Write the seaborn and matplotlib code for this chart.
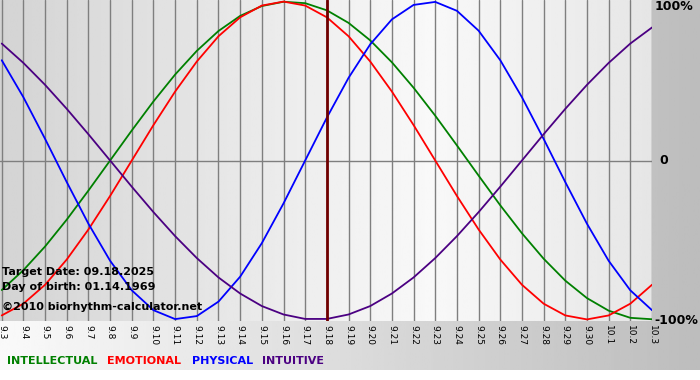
import matplotlib
matplotlib.use('Agg')
import matplotlib.pyplot as plt
import numpy as np
import pandas as pd
import seaborn as sns

# Days shown on the chart (Sep 3 - Oct 3, 2025)
days = ['9.3', '9.4', '9.5', '9.6', '9.7', '9.8', '9.9', '9.10', '9.11', '9.12',
        '9.13', '9.14', '9.15', '9.16', '9.17', '9.18', '9.19', '9.20', '9.21', '9.22',
        '9.23', '9.24', '9.25', '9.26', '9.27', '9.28', '9.29', '9.30', '10.1', '10.2', '10.3']

# Daily cycle values (-1 .. 1)
intellectual = [-0.815, -0.690, -0.541, -0.372, -0.189, 0.0, 0.189, 0.372, 0.541, 0.690,
                0.815, 0.910, 0.972, 0.999, 0.990, 0.945, 0.866, 0.756, 0.618, 0.458,
                0.282, 0.095, -0.095, -0.282, -0.458, -0.618, -0.756, -0.866, -0.945, -0.990, -0.999]
emotional = [-0.975, -0.901, -0.782, -0.623, -0.434, -0.223, 0.0, 0.223, 0.434, 0.623,
             0.782, 0.901, 0.975, 1.0, 0.975, 0.901, 0.782, 0.623, 0.434, 0.223,
             0.0, -0.223, -0.434, -0.623, -0.782, -0.901, -0.975, -1.0, -0.975, -0.901, -0.782]
physical = [0.631, 0.398, 0.136, -0.136, -0.398, -0.631, -0.817, -0.942, -0.998, -0.979,
            -0.888, -0.731, -0.520, -0.270, 0.0, 0.270, 0.520, 0.731, 0.888, 0.979,
            0.998, 0.942, 0.817, 0.631, 0.398, 0.136, -0.136, -0.398, -0.631, -0.817, -0.942]
intuitive = [0.736, 0.614, 0.476, 0.325, 0.165, 0.0, -0.165, -0.325, -0.476, -0.614,
             -0.736, -0.837, -0.916, -0.969, -0.997, -0.997, -0.969, -0.916, -0.837, -0.736,
             -0.614, -0.476, -0.325, -0.165, 0.0, 0.165, 0.325, 0.476, 0.614, 0.736, 0.837]

target_day = '9.18'
colors = {'INTELLECTUAL': '#008000', 'EMOTIONAL': '#ff0000',
          'PHYSICAL': '#0000ff', 'INTUITIVE': '#4b0082'}

# long-form table for seaborn
x = np.arange(len(days))
df = pd.concat([
    pd.DataFrame({'day': x, 'value': intellectual, 'cycle': 'INTELLECTUAL'}),
    pd.DataFrame({'day': x, 'value': emotional, 'cycle': 'EMOTIONAL'}),
    pd.DataFrame({'day': x, 'value': physical, 'cycle': 'PHYSICAL'}),
    pd.DataFrame({'day': x, 'value': intuitive, 'cycle': 'INTUITIVE'}),
])

sns.set_style('white')
plt.rcParams['font.family'] = ['DejaVu Sans']
plt.rcParams['text.color'] = 'black'

fig = plt.figure(figsize=(7, 3.8), dpi=100)
fig.patch.set_facecolor('white')

# grey gradient behind the labels (bottom strip + right margin)
bg = fig.add_axes([0, 10 / 380, 1, 370 / 380])
bg.imshow(np.linspace(0.98, 0.74, 256)[None, :], cmap='gray', vmin=0, vmax=1,
          aspect='auto', extent=[0, 1, 0, 1])
bg.set_axis_off()

ax = fig.add_axes([0, 1 - 321 / 380, 652 / 700, 321 / 380])
xmin, xmax = -0.08, len(days) - 1
ymin, ymax = -1.01, 1.01

# plot area gradient: grey at left, light near 9.23, a bit darker at right
g = np.interp(np.linspace(0, 1, 300), [0, 0.66, 1], [0.83, 0.975, 0.90])
ax.imshow(g[None, :], cmap='gray', vmin=0, vmax=1, aspect='auto',
          extent=[xmin, xmax, ymin, ymax], zorder=0)

for xi in x:
    ax.axvline(xi, color='#7f7f7f', lw=1, zorder=1)
ax.axhline(0, color='#7f7f7f', lw=1, zorder=1)

sns.lineplot(data=df, x='day', y='value', hue='cycle', palette=colors,
             lw=1.3, legend=False, ax=ax, zorder=3)

ax.axvline(days.index(target_day), color='#700000', lw=2, zorder=4)

ax.set_xlim(xmin, xmax)
ax.set_ylim(ymin, ymax)
ax.set_xticks(x)
ax.set_xticklabels(days, rotation=270, fontsize=6.5, color='black')
ax.tick_params(axis='x', length=0, pad=3)
ax.set_yticks([])
ax.set_xlabel('')
ax.set_ylabel('')
for s in ax.spines.values():
    s.set_visible(False)

# text block inside plot
info = ['Target Date: 09.18.2025', 'Day of birth: 01.14.1969']
fig.text(2 / 700, 1 - 272 / 380, info[0], fontsize=8, fontweight='bold', va='center')
fig.text(2 / 700, 1 - 287 / 380, info[1], fontsize=8, fontweight='bold', va='center')
fig.text(2 / 700, 1 - 307 / 380, '\u00a92010 biorhythm-calculator.net', fontsize=8,
         fontweight='bold', va='center')

# right side percent labels
fig.text(655 / 700, 1 - 7 / 380, '100%', fontsize=9, fontweight='bold', va='center')
fig.text(659 / 700, 1 - 161 / 380, '0', fontsize=9, fontweight='bold', va='center')
fig.text(654 / 700, 1 - 321 / 380, '-100%', fontsize=9, fontweight='bold', va='center')

# coloured legend words
xpos = [7, 107, 192, 262]
for name, xp in zip(colors, xpos):
    fig.text(xp / 700, 1 - 361 / 380, name, fontsize=8, fontweight='bold',
             color=colors[name], va='center')

fig.savefig('out.png', dpi=100)
